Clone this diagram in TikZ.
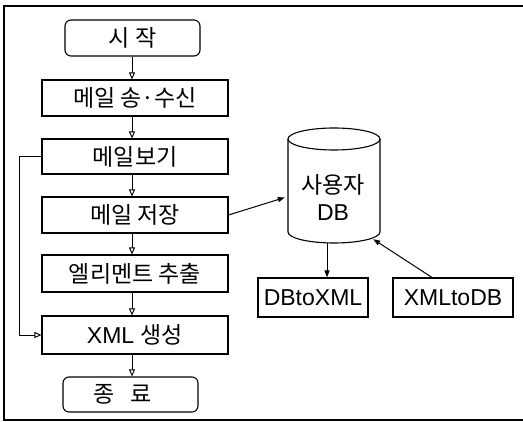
\documentclass[tikz,border=0pt]{standalone}
\usepackage{fontspec}
\setmainfont{Liberation Sans}
\newfontfamily\kr{Noto Sans CJK KR}
\usetikzlibrary{arrows.meta,calc}

\tikzset{
  box/.style={draw, line width=1.1pt, inner sep=0pt, font=\fontsize{23}{26}\selectfont},
  flowbox/.style={box, minimum width=186pt},
  termbox/.style={box, rounded corners=6pt, minimum width=135pt},
  flowarr/.style={line width=0.9pt, -{Triangle[open, length=7pt, width=6pt]}},
  dbarr/.style={line width=1pt, -{Triangle[length=7pt, width=5pt]}},
}

\begin{document}
\begin{tikzpicture}[x=1pt, y=-1pt]
  \useasboundingbox (0,0) rectangle (523,422);

  % outer frame (open at the right)
  \draw[line width=1.2pt] (523,6) -- (4,6) -- (4,420) -- (523,420);

  % main flow
  \node[termbox, minimum height=36pt] (start)   at (132.5,38)  {\kr 시 작};
  \node[flowbox, minimum height=36pt] (send)    at (135,98)    {\kr 메일 송·수신};
  \node[flowbox, minimum height=35pt] (view)    at (135,156.5) {\kr 메일보기};
  \node[flowbox, minimum height=36pt] (save)    at (135,215)   {\kr 메일 저장};
  \node[flowbox, minimum height=37pt] (extract) at (135,273.5) {\kr 엘리멘트 추출};
  \node[flowbox, minimum height=38pt] (xml)     at (135,335)   {XML {\kr 생성}};
  \node[termbox, minimum height=35pt, text width=135pt, align=center] (finish) at (130.5,394.5)
    {\kr\hspace*{-16pt}종\hspace{16pt}료};

  \coordinate (ax) at (132,0);
  \draw[flowarr] (ax |- start.south)   -- (ax |- send.north);
  \draw[flowarr] (ax |- send.south)    -- (ax |- view.north);
  \draw[flowarr] (ax |- view.south)    -- (ax |- save.north);
  \draw[flowarr] (ax |- save.south)    -- (ax |- extract.north);
  \draw[flowarr] (ax |- extract.south) -- (ax |- xml.north);
  \draw[flowarr] (ax |- xml.south)     -- (ax |- finish.north);

  % loop from view straight to XML generation
  \draw[flowarr] (view.west) -- ++(-22,0) |- (xml.west);

  % user database cylinder
  \node[minimum width=92pt, minimum height=115pt, inner sep=0pt] (db) at (334,185.5) {};
  \draw[line width=1.1pt]
    (288,139) -- (288,232)
    arc[start angle=180, end angle=360, x radius=46pt, y radius=11pt]
    -- (380,139);
  \draw[line width=1.1pt] (334,139) ellipse[x radius=46pt, y radius=11pt];
  \node[align=center, font=\fontsize{23}{27}\selectfont] (dblabel) at (333,197) {{\kr 사용자}\\DB};

  % conversion modules
  \node[box, minimum width=110pt, minimum height=39pt] (d2x) at (313,297.5) {DBtoXML};
  \node[box, minimum width=120pt, minimum height=39pt] (x2d) at (453,297.5) {XMLtoDB};

  \draw[dbarr] (save.east) -- ([xshift=-3pt, yshift=-12pt]db.west);
  \draw[dbarr] ([xshift=-7pt]db.south) -- ([xshift=-7pt]db.south |- d2x.north);
  \draw[dbarr] ([xshift=-21pt]x2d.north) -- ([xshift=-7pt, yshift=4pt]db.south east);
\end{tikzpicture}
\end{document}
